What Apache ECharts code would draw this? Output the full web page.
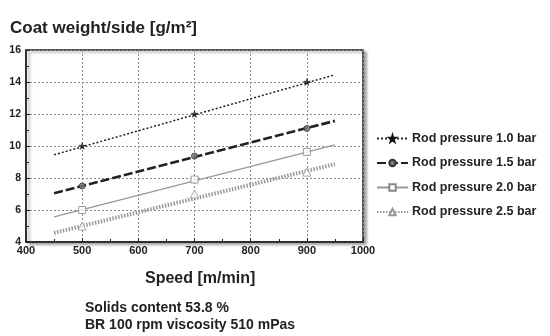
<!DOCTYPE html>
<html>
<head>
<meta charset="utf-8">
<script src="https://cdn.jsdelivr.net/npm/echarts@6/dist/echarts.min.js"></script>
<style>
  html, body { margin: 0; padding: 0; background: #fff; }
  #main { width: 550px; height: 336px; }
</style>
</head>
<body>
<div id="main"></div>
<script>
// measured speeds and the ends of the fitted lines
var speeds = [500, 700, 900];
var fitSpeeds = [450, 950];

var names = ['Rod pressure 1.0 bar', 'Rod pressure 1.5 bar', 'Rod pressure 2.0 bar', 'Rod pressure 2.5 bar'];

// coat weight at 500 / 700 / 900 m/min
var p10 = [10.0, 12.0, 14.0];
var p15 = [7.5, 9.37, 11.1];
var p20 = [6.0, 7.9, 9.63];
var p25 = [5.0, 7.0, 8.37];

// fitted line values at 450 / 950 m/min
var fit10 = [9.45, 14.45];
var fit15 = [7.05, 11.57];
var fit20 = [5.57, 10.07];
var fit25 = [4.57, 8.87];

var xTicks = [400, 500, 600, 700, 800, 900, 1000];
var yTicks = [4, 6, 8, 10, 12, 14, 16];

function pairs(xs, ys) {
  return xs.map(function (x, i) { return [x, ys[i]]; });
}

var starPath = 'path://M50,0 L61,35 L98,35 L68,57 L79,91 L50,70 L21,91 L32,57 L2,35 L39,35 Z';

var styles = [
  { line: { color: '#222', width: 1.5, type: [2, 2] }, symbol: starPath, size: 7, item: { color: '#111', borderColor: '#111', borderWidth: 0.5 } },
  { line: { color: '#222', width: 2.6, type: [9, 3] }, symbol: 'circle', size: 6, item: { color: '#777', borderColor: '#333', borderWidth: 1 } },
  { line: { color: '#999', width: 1.5, type: 'solid' }, symbol: 'rect', size: 7, item: { color: '#fff', borderColor: '#888', borderWidth: 1 } },
  { line: { color: '#999', width: 4, type: [1.5, 1.5] }, symbol: 'triangle', size: 8, item: { color: '#fff', borderColor: '#999', borderWidth: 1 } }
];

var fits = [fit10, fit15, fit20, fit25];
var points = [p10, p15, p20, p25];

var series = [];
names.forEach(function (n, i) {
  var s = styles[i];
  series.push({
    name: n,
    type: 'line',
    data: pairs(fitSpeeds, fits[i]).map(function (d) { return { value: d, symbol: 'none' }; }),
    symbol: s.symbol,
    symbolSize: s.size,
    lineStyle: s.line,
    itemStyle: s.item,
    silent: true,
    z: 2
  });
});
names.forEach(function (n, i) {
  var s = styles[i];
  series.push({
    name: n,
    type: 'scatter',
    data: pairs(speeds, points[i]),
    symbol: s.symbol,
    symbolSize: s.size,
    itemStyle: s.item,
    z: 3
  });
});

var chart = echarts.init(document.getElementById('main'));
chart.setOption({
  animation: false,
  textStyle: { fontFamily: 'Liberation Sans, Arial, sans-serif' },
  title: [
    { text: 'Coat weight/side [g/m²]', left: 5, top: 15, textStyle: { fontSize: 17, fontWeight: 'bold', color: '#222' } },
    { text: 'Speed [m/min]', left: 140, top: 266, textStyle: { fontSize: 16, fontWeight: 'bold', color: '#222' } },
    { text: 'Solids content 53.8 %\nBR 100 rpm viscosity 510 mPas', left: 80, top: 295, textStyle: { fontSize: 14, fontWeight: 'bold', color: '#222', lineHeight: 17 } }
  ],
  legend: {
    orient: 'vertical',
    left: 376,
    top: 132,
    padding: 0,
    itemWidth: 31,
    itemHeight: 8,
    itemGap: 11.5,
    data: names,
    textStyle: { fontSize: 12.5, fontWeight: 'bold', color: '#222', padding: [0, 0, 0, -1], overflow: 'none' }
  },
  grid: {
    left: 26, right: 187, top: 50, bottom: 94,
    show: true,
    backgroundColor: '#fff',
    borderColor: '#222',
    borderWidth: 1.5,
    shadowColor: 'rgba(0,0,0,0.35)',
    shadowBlur: 3,
    shadowOffsetX: 3,
    shadowOffsetY: 2
  },
  xAxis: {
    type: 'value',
    min: xTicks[0], max: xTicks[xTicks.length - 1], interval: 100,
    axisLine: { lineStyle: { color: '#222', width: 1.5 } },
    axisTick: { inside: true, length: 4, lineStyle: { color: '#222' } },
    minorTick: { show: true, splitNumber: 2, length: 3, lineStyle: { color: '#222' } },
    axisLabel: { fontSize: 11, fontWeight: 'bold', color: '#222', margin: 3, formatter: function (v) { return String(v); } },
    splitLine: { show: true, lineStyle: { color: '#888', type: [2, 2], width: 1 } }
  },
  yAxis: {
    type: 'value',
    min: yTicks[0], max: yTicks[yTicks.length - 1], interval: 2,
    axisLine: { show: true, lineStyle: { color: '#222', width: 1.5 } },
    axisTick: { show: true, inside: true, length: 4, lineStyle: { color: '#222' } },
    minorTick: { show: true, splitNumber: 2, length: 3, lineStyle: { color: '#222' } },
    axisLabel: { fontSize: 10.5, fontWeight: 'bold', color: '#222', margin: 5 },
    splitLine: { show: true, lineStyle: { color: '#888', type: [2, 2], width: 1 } }
  },
  series: series
});
</script>
</body>
</html>
